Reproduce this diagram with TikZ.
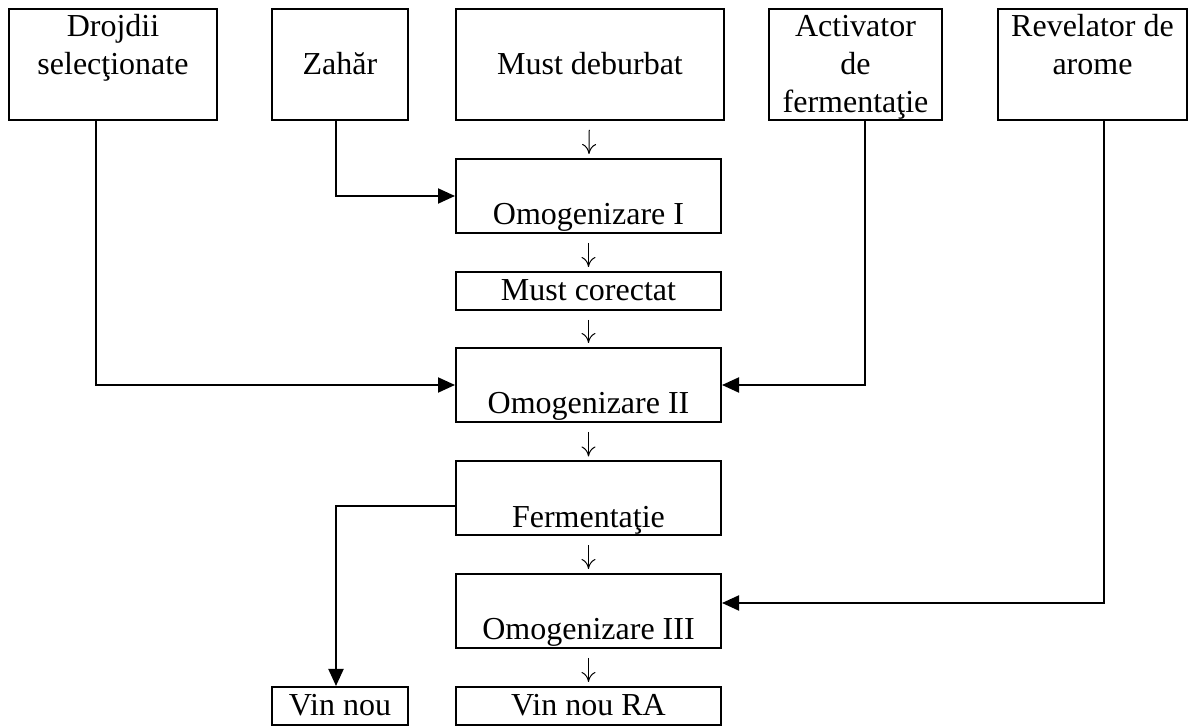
\documentclass[tikz,border=0pt]{standalone}
\usepackage{fontspec}
\setmainfont{Liberation Serif}
\usetikzlibrary{arrows.meta}
\newcommand{\rowstrut}{\rule[-3pt]{0pt}{16pt}}
\tikzset{
  basebox/.style={draw, line width=1pt, align=center, inner xsep=2pt, inner ysep=0pt,
    font=\fontsize{16}{19}\selectfont},
  rawbox/.style={basebox, minimum height=55.5pt},
  stepbox/.style={basebox, minimum width=132.5pt, minimum height=37pt},
  linebox/.style={basebox, minimum height=19pt},
  feed/.style={line width=1pt, -{Triangle[length=8.5pt,width=7.5pt]}},
  flowarrow/.style={line width=0.5pt, -{To[length=5pt,width=7pt]}, shorten <=4.5pt, shorten >=2pt}
}
\begin{document}
\begin{tikzpicture}[x=0.5pt, y=-0.5pt]
\useasboundingbox (0,0) rectangle (1196,726);

% Materii prime
\node[rawbox, minimum width=104pt] (drojdii) at (113,64.5) {\rowstrut Drojdii\\\rowstrut selecţionate\\\rowstrut};
\node[rawbox, minimum width=68pt] (zahar) at (340,64.5) {\rowstrut\\\rowstrut Zahăr\\\rowstrut};
\node[rawbox, minimum width=134pt] (mustdeb) at (590,64.5) {\rowstrut\\\rowstrut Must deburbat\\\rowstrut};
\node[rawbox, minimum width=86.5pt] (activator) at (855.5,64.5) {\rowstrut Activator\\\rowstrut de\\\rowstrut fermentaţie};
\node[rawbox, minimum width=94.5pt] (revelator) at (1092.5,64.5) {\rowstrut Revelator de\\\rowstrut arome\\\rowstrut};

% Flux principal
\node[stepbox] (omog1) at (588.5,196) {\rowstrut\\\rowstrut Omogenizare I};
\node[linebox, minimum width=132.5pt] (mustcor) at (588.5,291) {\rowstrut Must corectat};
\node[stepbox] (omog2) at (588.5,385) {\rowstrut\\\rowstrut Omogenizare II};
\node[stepbox] (ferm) at (588.5,498.5) {\rowstrut\\\rowstrut Fermentaţie};
\node[stepbox] (omog3) at (588.5,611) {\rowstrut\\\rowstrut Omogenizare III};
\node[linebox, minimum width=132.5pt] (vinra) at (588.5,706) {\rowstrut Vin nou RA};
\node[linebox, minimum width=68pt] (vinnou) at (340,706) {\rowstrut Vin nou};

\draw[flowarrow] (mustdeb) -- (omog1);
\draw[flowarrow] (omog1) -- (mustcor);
\draw[flowarrow] (mustcor) -- (omog2);
\draw[flowarrow] (omog2) -- (ferm);
\draw[flowarrow] (ferm) -- (omog3);
\draw[flowarrow] (omog3) -- (vinra);

% Adaosuri
\draw[feed] ([xshift=-2pt]zahar.south) |- (omog1);
\draw[feed] ([xshift=-8.5pt]drojdii.south) |- (omog2);
\draw[feed] ([xshift=4.75pt]activator.south) |- (omog2);
\draw[feed] ([xshift=5.5pt]revelator.south) |- ([yshift=4pt]omog3.east);
\draw[feed] ([yshift=-4pt]ferm.west) -| ([xshift=-2pt]vinnou.north);
\end{tikzpicture}
\end{document}
